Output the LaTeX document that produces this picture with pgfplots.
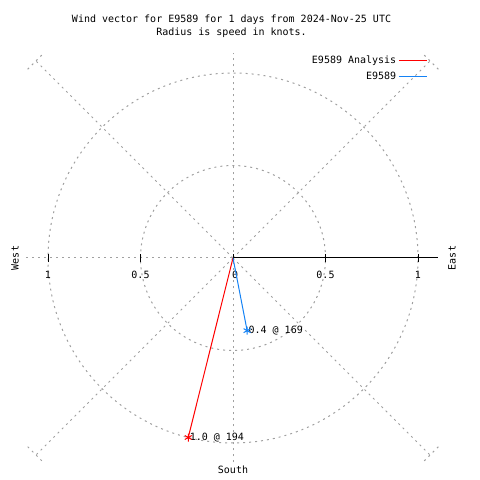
\documentclass[border=0pt]{standalone}
\usepackage{pgfplots}
\pgfplotsset{compat=1.18}
\usepackage{fontspec}
\setmainfont{DejaVu Sans Mono}
\definecolor{gridgray}{RGB}{160,160,160}
\definecolor{myblue}{RGB}{20,130,245}
\begin{document}
\fontsize{10pt}{12pt}\selectfont
\begin{tikzpicture}
\begin{axis}[
  width=480pt, height=480pt, scale only axis,
  xmin=-1.2595, xmax=1.3351, ymin=-1.2, ymax=1.3946,
  hide axis, clip=false,
  legend plot pos=right,
  legend cell align=right,
  legend image code/.code={\draw[#1,line width=1.2pt] (0cm,0cm) -- (1cm,0cm);},
  legend style={at={(axis cs:1.06,1.108)}, anchor=north east, draw=none, fill=none,
    font=\fontsize{10pt}{12pt}\selectfont, row sep=2.5pt, inner sep=1pt},
]
\path (rel axis cs:0,0) rectangle (rel axis cs:1,1);
% grid
\begin{scope}[gridgray, line width=1pt, dash pattern=on 2pt off 4pt]
\draw (axis cs:0,0) circle [radius=0.5];
\draw (axis cs:0,0) circle [radius=1.0];
\draw (axis cs:0,-1.105) -- (axis cs:0,1.11);
\draw (axis cs:-1.12,0) -- (axis cs:0,0);
\draw (axis cs:0,0) -- (axis cs:1.065,1.065);
\draw (axis cs:0,0) -- (axis cs:-1.065,1.065);
\draw (axis cs:0,0) -- (axis cs:1.065,-1.065);
\draw (axis cs:0,0) -- (axis cs:-1.065,-1.065);
\draw (axis cs:-1.11,1.02) -- (axis cs:-1.02,1.11);
\draw (axis cs:1.11,1.02) -- (axis cs:1.02,1.11);
\draw (axis cs:-1.11,-1.02) -- (axis cs:-1.02,-1.11);
\draw (axis cs:1.11,-1.02) -- (axis cs:1.02,-1.11);
\end{scope}
% polar axis
\draw[black, line width=1pt] (axis cs:0,0) -- (axis cs:1.11,0);
\pgfplotsinvokeforeach{-1,-0.5,0,0.5,1}{
  \draw[black, line width=1pt] (axis cs:#1,-0.022) -- (axis cs:#1,0.022);
}
\node at (axis cs:-1,-0.092) {1};
\node at (axis cs:-0.5,-0.092) {0.5};
\node at (axis cs:0.012,-0.092) {0};
\node at (axis cs:0.5,-0.092) {0.5};
\node at (axis cs:1,-0.092) {1};
% direction labels
\node[rotate=90] at (axis cs:-1.178,0) {West};
\node[rotate=90] at (axis cs:1.184,0) {East};
\node at (axis cs:0,-1.146) {South};
% titles
\node at (axis cs:-0.008,1.2865) {Wind vector for E9589 for 1 days from 2024-Nov-25 UTC};
\node at (axis cs:-0.008,1.2162) {Radius is speed in knots.};
% data
\addplot[red, line width=1pt, mark=asterisk, mark indices={2}, mark size=4pt,
  mark options={solid}]
  coordinates {(0,0) (-0.2419,-0.9703)}
  node[pos=1, anchor=west, inner sep=1pt, black] {1.0 @ 194};
\addlegendentry{E9589 Analysis}
\addplot[myblue, line width=1pt, mark=asterisk, mark indices={2}, mark size=4pt,
  mark options={solid}]
  coordinates {(0,0) (0.0763,-0.3927)}
  node[pos=1, anchor=west, inner sep=1pt, black] {0.4 @ 169};
\addlegendentry{E9589}
\end{axis}
\end{tikzpicture}
\end{document}
